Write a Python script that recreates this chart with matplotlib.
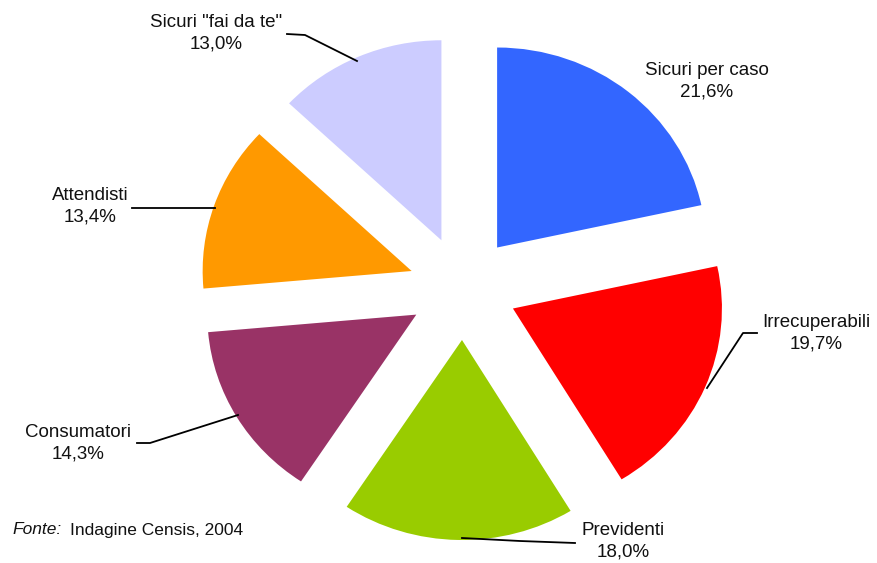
import matplotlib.pyplot as plt

plt.rcParams['font.family'] = ['Liberation Sans', 'DejaVu Sans']

# dati
labels = ['Sicuri per caso', 'Irrecuperabili', 'Previdenti',
          'Consumatori', 'Attendisti', 'Sicuri "fai da te"']
values = [21.6, 19.7, 18.0, 14.3, 13.4, 13.0]
colors = ['#3366FF', '#FF0000', '#99CC00', '#993366', '#FF9900', '#CCCCFF']

W, H = 878, 563
CX = 463        # centro torta (pixel)
SX = 1.045      # la torta originale e' leggermente allargata in orizzontale

fig = plt.figure(figsize=(W / 100, H / 100), dpi=100)
ax = fig.add_axes([0, 0, 1, 1])


def px(x):
    # pixel x -> dati
    return CX + (x - CX) / SX


def py(y):
    # pixel y dall'alto -> dati
    return H - y


ax.pie(values, colors=colors, startangle=90, counterclock=False,
       explode=[52] * len(values), radius=200, center=(CX, py(288)),
       wedgeprops=dict(linewidth=0), frame=True)
ax.set_xlim(px(0), px(W))
ax.set_ylim(0, H)
ax.set_aspect('auto')
ax.axis('off')

# etichette: centro testo, linea guida (pixel)
label_pos = [(707, 81), (816, 333), (623, 541), (78, 443), (90, 206), (216, 33)]
leaders = [
    None,
    [(757, 333), (743, 333), (707, 388)],
    [(575, 543), (520, 541), (462, 538)],
    [(137, 443), (150, 443), (238, 415)],
    [(132, 208), (215, 208)],
    [(287, 34), (305, 35), (357, 61)],
]

for lab, v, (x, y), ld in zip(labels, values, label_pos, leaders):
    txt = lab + '\n' + ('%.1f' % v).replace('.', ',') + '%'
    ax.text(px(x), py(y), txt, ha='center', va='center', fontsize=13.5,
            color='#111111', linespacing=1.35)
    if ld:
        xs = [px(p[0]) for p in ld]
        ys = [py(p[1]) for p in ld]
        ax.plot(xs, ys, color='black', lw=1.3)

ax.text(px(12), py(530), 'Fonte:', ha='left', va='center', fontsize=12.5,
        style='italic', color='#111111')
ax.text(px(70), py(530), 'Indagine Censis, 2004', ha='left', va='center',
        fontsize=12.5, color='#111111')

fig.savefig('out.png', dpi=100)
